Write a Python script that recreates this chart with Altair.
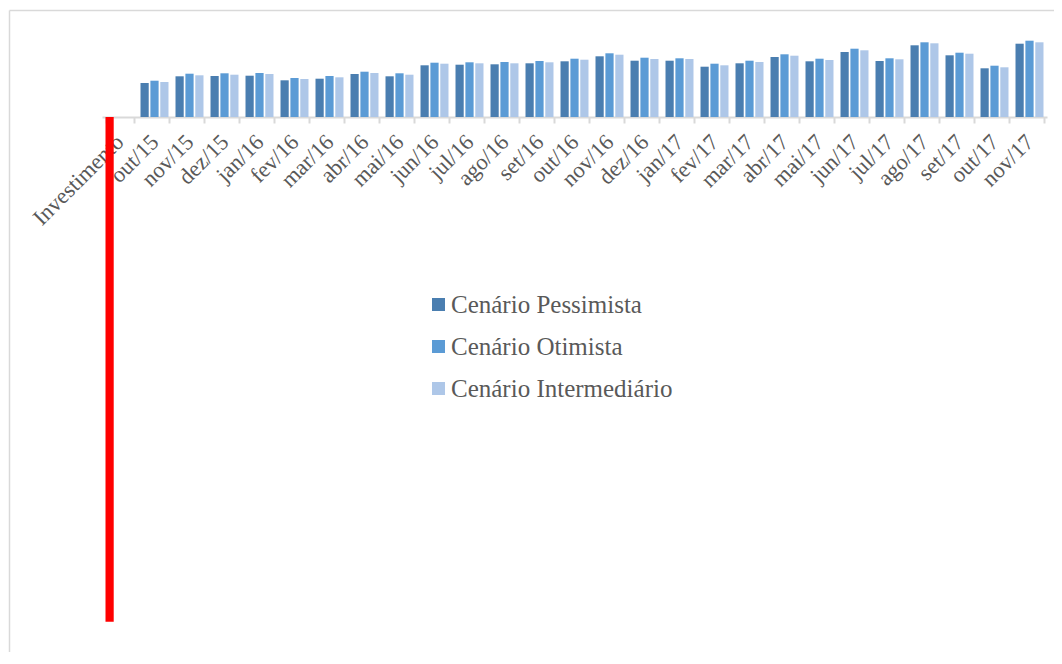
import altair as alt
import pandas as pd

categorias = ["Investimento", "out/15", "nov/15", "dez/15", "jan/16", "fev/16", "mar/16",
              "abr/16", "mai/16", "jun/16", "jul/16", "ago/16", "set/16", "out/16",
              "nov/16", "dez/16", "jan/17", "fev/17", "mar/17", "abr/17", "mai/17",
              "jun/17", "jul/17", "ago/17", "set/17", "out/17", "nov/17"]

series = ["Cenário Pessimista", "Cenário Otimista", "Cenário Intermediário"]
cores = ["#4a7eb0", "#5b9bd5", "#aec7e8"]

pessimista = [-504.7, 34.0, 40.7, 41.0, 41.3, 36.7, 38.3, 43.0, 40.7, 51.7, 52.3, 52.7, 53.7,
              55.7, 60.7, 56.3, 56.3, 50.3, 53.7, 60.0, 55.7, 65.0, 56.0, 71.7, 61.7, 48.7, 73.3]
otimista = [None, 36.3, 43.3, 43.7, 44.0, 39.0, 41.0, 45.3, 43.7, 54.3, 54.7, 55.0, 56.0,
            58.3, 63.7, 59.3, 58.7, 53.3, 56.3, 62.7, 58.3, 68.3, 58.7, 74.7, 64.3, 51.3, 76.3]
intermediario = [None, 35.0, 41.7, 42.3, 43.0, 38.0, 39.7, 44.0, 42.3, 53.3, 53.7, 53.7, 54.7,
                 57.3, 62.3, 58.0, 58.0, 51.7, 55.0, 61.3, 57.0, 66.7, 57.7, 73.7, 63.3, 49.7, 74.7]

rows = []
for s, vals in zip(series, [pessimista, otimista, intermediario]):
    for c, v in zip(categorias, vals):
        if v is not None:
            rows.append({"cat": c, "serie": s, "valor": v})
df = pd.DataFrame(rows)

Y_MIN, Y_MAX = -505, 90
PLOT_W, PLOT_H = 945, 595
FONT = "Liberation Serif"
GRAY = "#595959"
LINE = "#d9d9d9"

bars = alt.Chart(df).mark_bar().encode(
    x=alt.X("cat:N", sort=categorias,
            scale=alt.Scale(paddingInner=0.2, paddingOuter=0.1),
            axis=alt.Axis(title=None, offset=-(PLOT_H - Y_MAX), labelAngle=315,
                          labelAlign="right", labelBaseline="middle", labelPadding=15,
                          labelFont=FONT, labelFontSize=22.5, labelColor=GRAY,
                          domainColor=LINE, domainWidth=2, tickColor=LINE, tickWidth=2,
                          tickSize=6, tickBand="extent", labelOverlap=False)),
    xOffset=alt.XOffset("serie:N", sort=series, scale=alt.Scale(paddingInner=0.17, paddingOuter=0)),
    y=alt.Y("valor:Q", scale=alt.Scale(domain=[Y_MIN, Y_MAX], nice=False, zero=True), axis=None),
    color=alt.when(alt.datum.cat == "Investimento").then(alt.value("#ff0000")).otherwise(
        alt.Color("serie:N", sort=series, scale=alt.Scale(domain=series, range=cores),
                  legend=alt.Legend(title=None, orient="none", legendX=324, legendY=265,
                                    symbolType="square", symbolSize=169, symbolStrokeWidth=0,
                                    labelFont=FONT, labelFontSize=25, labelColor=GRAY,
                                    labelLimit=400, labelOffset=0, rowPadding=16))),
)

frame = alt.Data(values=[{"k": 1}])
top_line = alt.Chart(frame).mark_rule(color=LINE, strokeWidth=1.5).encode(
    x=alt.value(-92.5), x2=alt.value(952), y=alt.value(-16.5))
left_line = alt.Chart(frame).mark_rule(color=LINE, strokeWidth=1.5).encode(
    x=alt.value(-92.5), y=alt.value(-16.5), y2=alt.value(626))

chart = alt.layer(top_line, left_line, bars).properties(
    width=PLOT_W, height=PLOT_H,
    autosize=alt.AutoSizeParams(type="none"),
    padding={"left": 94, "top": 19, "right": 7, "bottom": 30},
).configure_view(stroke=None)

chart.save("out.html", embed_options={"renderer": "svg", "actions": False})
